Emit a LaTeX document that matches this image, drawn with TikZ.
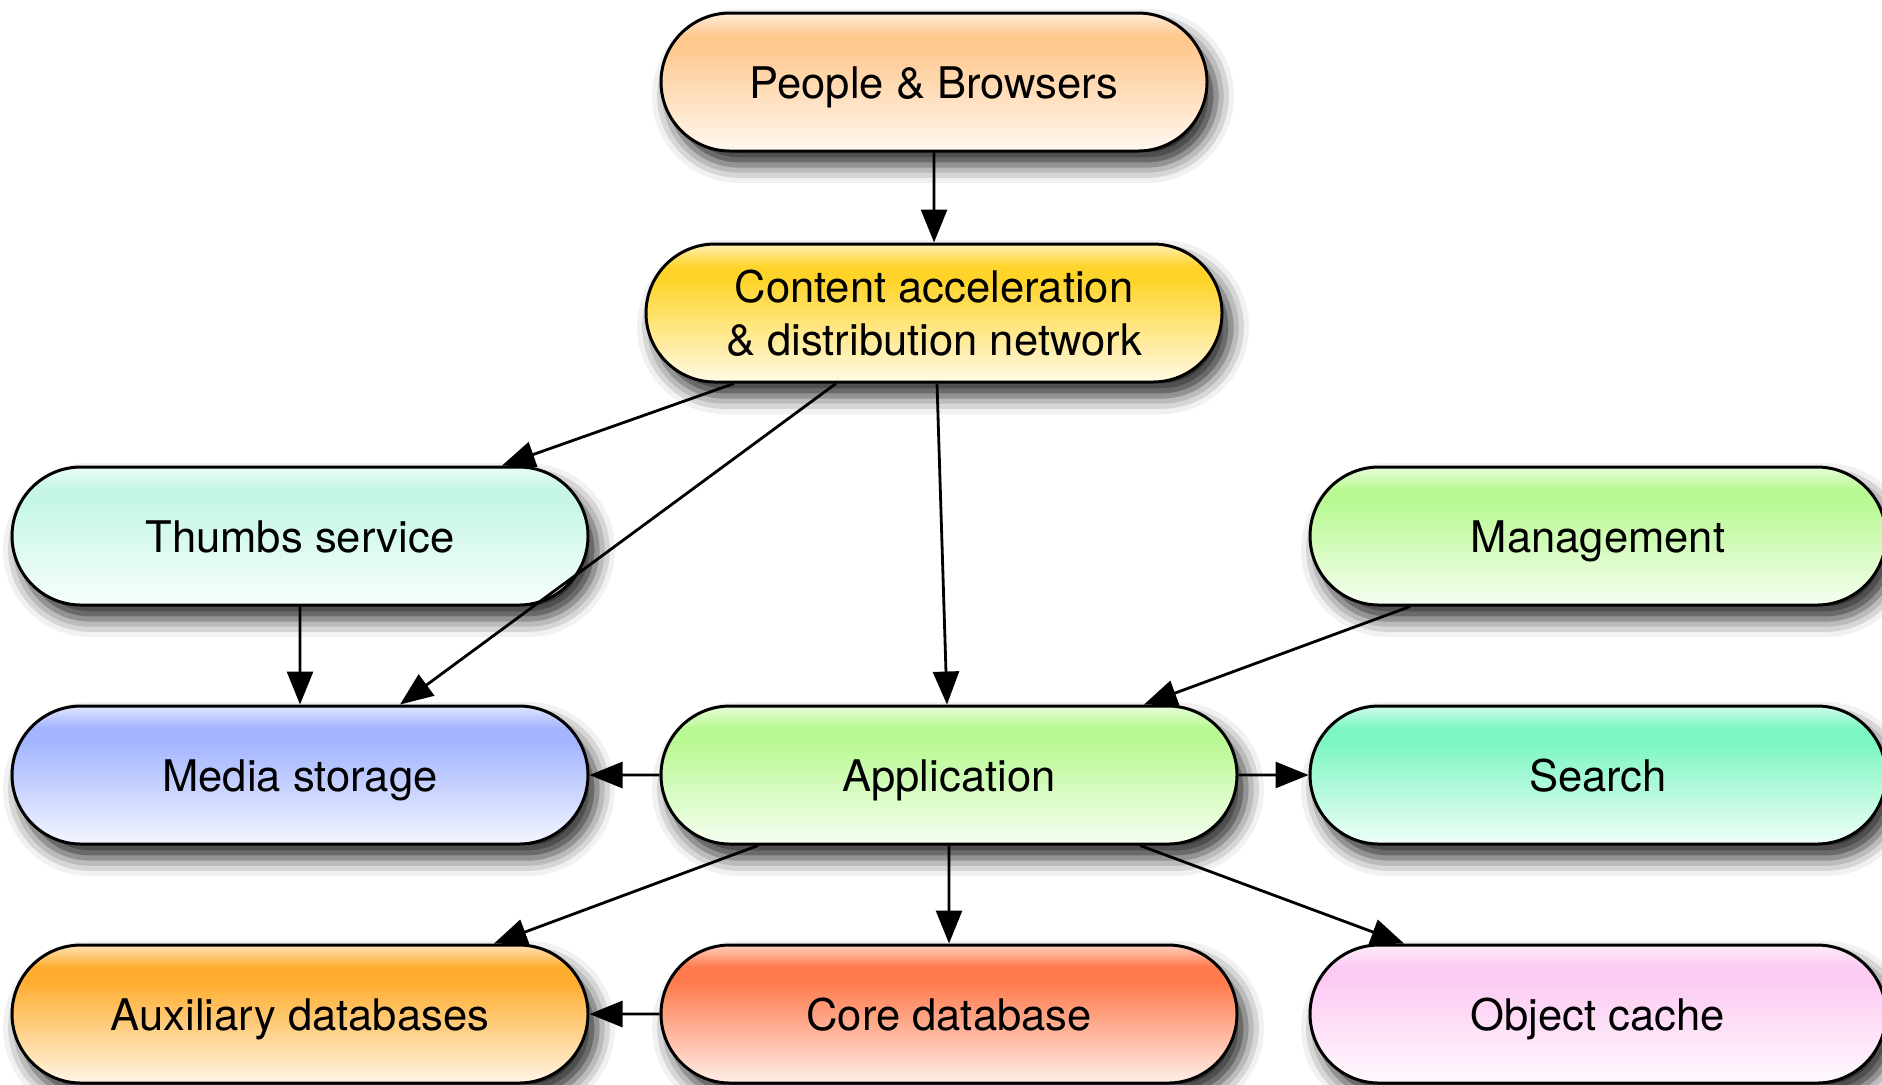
\documentclass[tikz,border=0pt]{standalone}
\usepackage{fontspec}
\setmainfont{TeX Gyre Heros}
\usetikzlibrary{arrows.meta,shapes.misc,shadows.blur}
\definecolor{peopleC}{HTML}{FFC990}
\definecolor{contentC}{HTML}{FFD42A}
\definecolor{thumbsC}{HTML}{C6F7E6}
\definecolor{greenC}{HTML}{B9F993}
\definecolor{mediaC}{HTML}{A3B5FF}
\definecolor{searchC}{HTML}{7DF6C3}
\definecolor{auxC}{HTML}{FFAD2E}
\definecolor{coreC}{HTML}{FF7A4C}
\definecolor{cacheC}{HTML}{FCCBF2}
\colorlet{gtop}{white}\colorlet{gmid}{white}\colorlet{gbot}{white}
\pgfdeclareverticalshading[gtop,gmid,gbot]{glossy}{100bp}{color(0bp)=(gbot); color(25bp)=(gbot); color(62bp)=(gmid); color(67bp)=(gmid); color(75bp)=(gtop); color(100bp)=(gtop)}

\begin{document}
\begin{tikzpicture}[
pill/.style = {rounded rectangle, draw, line width=0.85pt, minimum width=5.76cm,
  minimum height=1.38cm, inner sep=0pt, align=center,
  font=\fontsize{12.4}{15}\selectfont, shading=glossy,
  blur shadow={shadow xshift=0.09cm, shadow yshift=-0.14cm,
    shadow blur radius=0.18cm, shadow opacity=85}},
word/.style = {pill, text height=2ex, text depth=0.2ex},
tint/.style = {/utils/exec={\colorlet{gmid}{#1}\colorlet{gtop}{#1!35!white}\colorlet{gbot}{#1!12!white}}},
conn/.style = {line width=0.8pt, -{Triangle[length=0.33cm,width=0.26cm]}}]
\useasboundingbox (0,0) rectangle (18.82,-10.84);
\node[word, tint=peopleC, minimum width=5.46cm] (people) at (9.34,-0.82) {People \& Browsers};
\node[pill, tint=contentC] (content) at (9.34,-3.13) {Content acceleration\\\& distribution network};
\node[word, tint=thumbsC] (thumbs) at (3.00,-5.36) {Thumbs service};
\node[word, tint=greenC] (mgmt) at (15.98,-5.36) {Management};
\node[word, tint=mediaC] (media) at (3.00,-7.75) {Media storage};
\node[word, tint=greenC] (app) at (9.49,-7.75) {Application};
\node[word, tint=searchC] (search) at (15.98,-7.75) {Search};
\node[word, tint=auxC] (aux) at (3.00,-10.14) {Auxiliary databases};
\node[word, tint=coreC] (core) at (9.49,-10.14) {Core database};
\node[word, tint=cacheC] (cache) at (15.98,-10.14) {Object cache};

\draw[conn] (people) -- (content);
\draw[conn] ([xshift=-2cm]content.south) -- ([xshift=2.02cm]thumbs.north);
\draw[conn] ([xshift=-0.98cm]content.south) -- ([xshift=1cm]media.north);
\draw[conn] ([xshift=0.03cm]content.south) -- ([xshift=-0.02cm]app.north);
\draw[conn] (thumbs) -- (media);
\draw[conn] ([xshift=-1.88cm]mgmt.south) -- ([xshift=1.95cm]app.north);
\draw[conn] (app) -- (media);
\draw[conn] (app) -- (search);
\draw[conn] ([xshift=-1.91cm]app.south) -- ([xshift=1.94cm]aux.north);
\draw[conn] (app) -- (core);
\draw[conn] ([xshift=1.91cm]app.south) -- ([xshift=-1.94cm]cache.north);
\draw[conn] (core) -- (aux);
\end{tikzpicture}
\end{document}
